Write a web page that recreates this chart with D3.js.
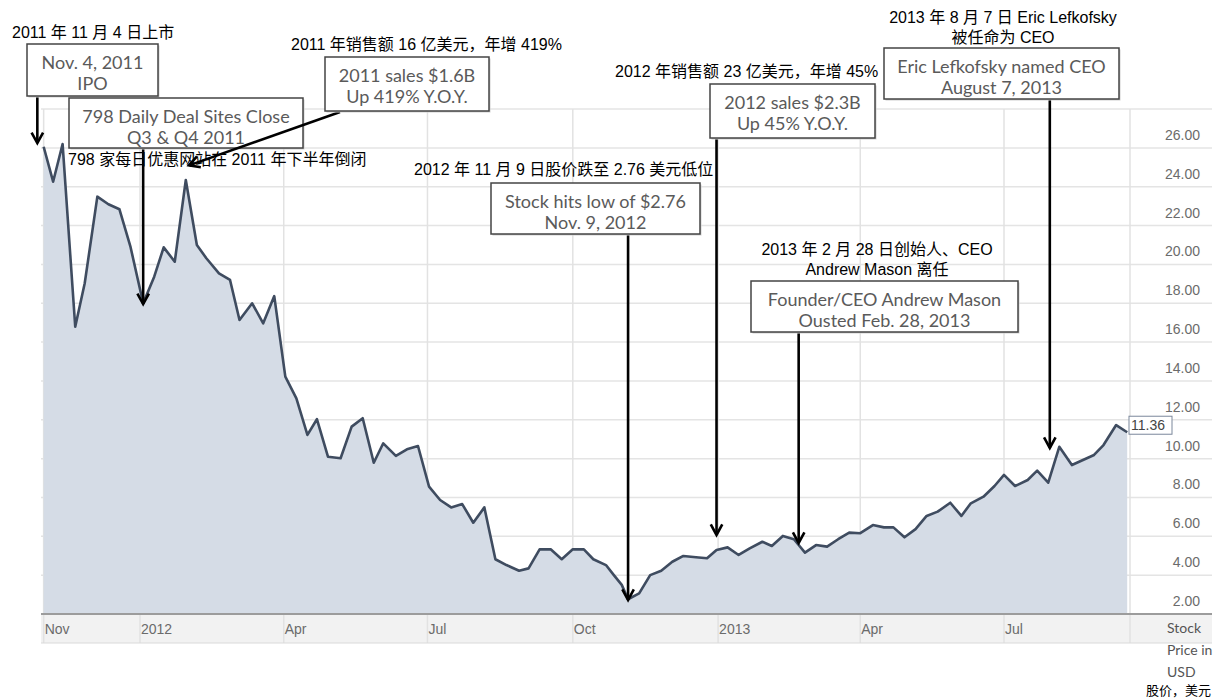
<!DOCTYPE html>
<html>
<head>
<meta charset="utf-8">
<script src="https://cdn.jsdelivr.net/npm/d3@7"></script>
<style>
  body { margin: 0; background: #fff; }
  svg { display: block; }
  .zh { font-family: "Liberation Sans", "Noto Sans CJK SC", sans-serif; font-size: 16px; fill: #000; }
  .box text { font-family: Lato, "Open Sans", sans-serif; font-size: 18px; fill: #5a5a5a; }
  .tick { font-family: "Liberation Sans", Arial, sans-serif; font-size: 14px; fill: #6b6b6b; }
</style>
</head>
<body>
<script>
// weekly closing prices
const dates = [
  "2011-11-01", "2011-11-07", "2011-11-13", "2011-11-21", "2011-11-27", "2011-12-05",
  "2011-12-12", "2011-12-19", "2011-12-26", "2012-01-03", "2012-01-10", "2012-01-16",
  "2012-01-23", "2012-01-30", "2012-02-06", "2012-02-12", "2012-02-20", "2012-02-27",
  "2012-03-04", "2012-03-12", "2012-03-19", "2012-03-26", "2012-04-02", "2012-04-09",
  "2012-04-16", "2012-04-22", "2012-04-29", "2012-05-07", "2012-05-14", "2012-05-21",
  "2012-05-28", "2012-06-03", "2012-06-11", "2012-06-18", "2012-06-25", "2012-07-02",
  "2012-07-09", "2012-07-16", "2012-07-23", "2012-07-30", "2012-08-06", "2012-08-13",
  "2012-08-20", "2012-08-28", "2012-09-03", "2012-09-10", "2012-09-17", "2012-09-24",
  "2012-10-01", "2012-10-08", "2012-10-14", "2012-10-22", "2012-10-27", "2012-11-01",
  "2012-11-05", "2012-11-12", "2012-11-19", "2012-11-26", "2012-12-03", "2012-12-10",
  "2012-12-18", "2012-12-25", "2012-12-31", "2013-01-07", "2013-01-14", "2013-01-21",
  "2013-01-29", "2013-02-04", "2013-02-11", "2013-02-18", "2013-02-25", "2013-03-04",
  "2013-03-11", "2013-03-18", "2013-03-25", "2013-04-01", "2013-04-09", "2013-04-16",
  "2013-04-22", "2013-04-29", "2013-05-06", "2013-05-13", "2013-05-20", "2013-05-28",
  "2013-06-04", "2013-06-10", "2013-06-18", "2013-06-25", "2013-07-01", "2013-07-08",
  "2013-07-16", "2013-07-22", "2013-07-29", "2013-08-05", "2013-08-13", "2013-08-20",
  "2013-08-27", "2013-09-02", "2013-09-10", "2013-09-17"
];
const prices = [
  26.06, 24.26, 26.2, 16.79, 19.03, 23.49,
  23.1, 22.84, 20.9, 18.0, 19.37, 20.88,
  20.14, 24.35, 21.0, 20.32, 19.54, 19.2,
  17.14, 18.0, 16.97, 18.37, 14.22, 13.1,
  11.22, 12.03, 10.1, 10.02, 11.65, 12.08,
  9.79, 10.79, 10.14, 10.48, 10.65, 8.56,
  7.87, 7.49, 7.66, 6.7, 7.49, 4.82,
  4.52, 4.23, 4.35, 5.33, 5.33, 4.82,
  5.33, 5.33, 4.82, 4.52, 4.0, 3.5,
  2.76, 3.06, 4.0, 4.23, 4.69, 4.99,
  4.92, 4.87, 5.3, 5.43, 5.04, 5.38,
  5.72, 5.5, 6.02, 5.85, 5.16, 5.55,
  5.47, 5.85, 6.19, 6.16, 6.58, 6.46,
  6.46, 5.95, 6.37, 7.05, 7.27, 7.73,
  7.05, 7.7, 8.04, 8.59, 9.16, 8.59,
  8.9, 9.38, 8.76, 10.61, 9.67, 9.93,
  10.19, 10.7, 11.73, 11.36
];

const yTicks = [2, 4, 6, 8, 10, 12, 14, 16, 18, 20, 22, 24, 26];
const yGrid = [4, 6, 8, 10, 12, 14, 16, 18, 20, 22, 24, 26, 28];
const xTickDates = ["2011-11-01", "2012-01-01", "2012-04-01", "2012-07-01", "2012-10-01", "2013-01-01", "2013-04-01", "2013-07-01"];
const xTickLabels = ["Nov", "2012", "Apr", "Jul", "Oct", "2013", "Apr", "Jul"];
const lastLabel = "11.36";
const unitLines = ["Stock", "Price in", "USD"];
const unitZh = "股价，美元";

// callouts: box in pixels, arrow tip at a date/price
const notes = [
  { box: [27, 44, 131, 52], lines: ["Nov. 4, 2011", "IPO"], tip: ["2011-10-28", 26.25], from: [null, 97],
    zh: { x: 12, y: 38, anchor: "start", lines: ["2011 年 11 月 4 日上市"] } },
  { box: [69, 98, 234, 50], lines: ["798 Daily Deal Sites Close", "Q3 & Q4 2011"], tip: ["2012-01-03", 17.96], from: [null, 148],
    zh: { x: 68, y: 165, anchor: "start", lines: ["798 家每日优惠网站在 2011 年下半年倒闭"] } },
  { box: [325, 57, 164, 54], lines: ["2011 sales $1.6B", "Up 419% Y.O.Y."], tip: ["2012-02-01", 25.1], from: [340, 112],
    zh: { x: 291, y: 50, anchor: "start", lines: ["2011 年销售额 16 亿美元，年增 419%"] } },
  { box: [491, 183, 209, 51], lines: ["Stock hits low of $2.76", "Nov. 9, 2012"], tip: ["2012-11-05", 2.72], from: [null, 234],
    zh: { x: 414, y: 175, anchor: "start", lines: ["2012 年 11 月 9 日股价跌至 2.76 美元低位"] } },
  { box: [710, 84, 165, 54], lines: ["2012 sales $2.3B", "Up 45% Y.O.Y."], tip: ["2012-12-31", 6.07], from: [null, 138],
    zh: { x: 615, y: 77, anchor: "start", lines: ["2012 年销售额 23 亿美元，年增 45%"] } },
  { box: [751, 281, 267, 51], lines: ["Founder/CEO Andrew Mason", "Ousted Feb. 28, 2013"], tip: ["2013-02-21", 5.66], from: [null, 332],
    zh: { x: 877, y: 255, anchor: "middle", lines: ["2013 年 2 月 28 日创始人、CEO", "Andrew Mason 离任"] } },
  { box: [884, 48, 235, 51], lines: ["Eric Lefkofsky named CEO", "August 7, 2013"], tip: ["2013-07-30", 10.55], from: [null, 99],
    zh: { x: 1003, y: 23, anchor: "middle", lines: ["2013 年 8 月 7 日 Eric Lefkofsky", "被任命为 CEO"] } }
];

const W = 1218, H = 700;
const left = 41, right = 1130, bottom = 614, bandBottom = 643, gridEnd = 1212;
const parse = d3.timeParse("%Y-%m-%d");

const data = dates.map((d, i) => ({ date: parse(d), price: prices[i] }));

// place Jan 2012 and Jul 2013 where the picture has them, then stretch to the plot edges
const anchor = d3.scaleTime()
  .domain([parse("2012-01-01"), parse("2013-07-01")])
  .range([140, 1004]);
const x = d3.scaleTime()
  .domain([anchor.invert(left), anchor.invert(right)])
  .range([left, right]);
const y = d3.scaleLinear()
  .domain([2, 28])
  .range([bottom, bottom - 26 * 19.42]);

const svg = d3.select("body").append("svg")
  .attr("width", W)
  .attr("height", H);

// horizontal grid
svg.append("g")
  .selectAll("line")
  .data(yGrid)
  .enter().append("line")
  .attr("x1", left).attr("x2", gridEnd)
  .attr("y1", d => y(d)).attr("y2", d => y(d))
  .attr("stroke", "#e4e4e4")
  .attr("stroke-width", 1.5);

// x axis band
svg.append("rect")
  .attr("x", left).attr("y", bottom)
  .attr("width", gridEnd - left).attr("height", bandBottom - bottom)
  .attr("fill", "#f2f2f2");

// vertical grid
const xTicks = xTickDates.map(parse);
svg.append("g")
  .selectAll("line")
  .data(xTicks)
  .enter().append("line")
  .attr("x1", d => x(d)).attr("x2", d => x(d))
  .attr("y1", y(28)).attr("y2", bandBottom)
  .attr("stroke", "#e2e2e2")
  .attr("stroke-width", 1.5);

svg.append("line")
  .attr("x1", right).attr("x2", right)
  .attr("y1", y(28)).attr("y2", bandBottom)
  .attr("stroke", "#e2e2e2")
  .attr("stroke-width", 1.5);

// price area + line
const area = d3.area()
  .x(d => x(d.date))
  .y0(y(2))
  .y1(d => y(d.price));

const line = d3.line()
  .x(d => x(d.date))
  .y(d => y(d.price));

svg.append("path")
  .datum(data)
  .attr("d", area)
  .attr("fill", "#d5dce6");

svg.append("path")
  .datum(data)
  .attr("d", line)
  .attr("fill", "none")
  .attr("stroke", "#3f4c60")
  .attr("stroke-width", 2.6)
  .attr("stroke-linejoin", "round");

// axis band borders
svg.append("line")
  .attr("x1", left).attr("x2", gridEnd)
  .attr("y1", bottom).attr("y2", bottom)
  .attr("stroke", "#9c9c9c")
  .attr("stroke-width", 2);

svg.append("line")
  .attr("x1", left).attr("x2", gridEnd)
  .attr("y1", bandBottom).attr("y2", bandBottom)
  .attr("stroke", "#dadada")
  .attr("stroke-width", 1);

// x tick labels
svg.append("g")
  .selectAll("text")
  .data(xTicks)
  .enter().append("text")
  .attr("class", "tick")
  .attr("x", d => Math.max(left, x(d)) + 1)
  .attr("y", 634)
  .text((d, i) => xTickLabels[i]);

// y tick labels, sitting above their grid line
svg.append("g")
  .selectAll("text")
  .data(yTicks)
  .enter().append("text")
  .attr("class", "tick")
  .attr("x", 1200)
  .attr("y", d => y(d) - 8)
  .attr("text-anchor", "end")
  .text(d => d3.format(".2f")(d));

// last price tag
const last = data[data.length - 1];
svg.append("rect")
  .attr("x", right - 1).attr("y", y(last.price) - 16)
  .attr("width", 43).attr("height", 18)
  .attr("fill", "#fff")
  .attr("stroke", "#7b879b")
  .attr("stroke-width", 1);
svg.append("text")
  .attr("class", "tick")
  .attr("x", right + 1)
  .attr("y", y(last.price) - 2)
  .style("fill", "#444")
  .text(lastLabel);

// unit label under the y axis
svg.append("g")
  .selectAll("text")
  .data(unitLines)
  .enter().append("text")
  .attr("x", 1167)
  .attr("y", (d, i) => 633 + i * 22)
  .style("font-family", "Lato, sans-serif")
  .style("font-size", "14px")
  .style("fill", "#555")
  .text(d => d);

svg.append("text")
  .attr("class", "zh")
  .attr("x", 1211)
  .attr("y", 695)
  .attr("text-anchor", "end")
  .style("font-size", "13px")
  .text(unitZh);

// callouts
function arrow(g, x1, y1, x2, y2) {
  const a = Math.atan2(y2 - y1, x2 - x1);
  const len = 12, spread = 0.5;
  g.append("line")
    .attr("x1", x1).attr("y1", y1)
    .attr("x2", x2).attr("y2", y2)
    .attr("stroke", "#000")
    .attr("stroke-width", 2.6);
  g.append("path")
    .attr("d", `M${x2 - len * Math.cos(a - spread)},${y2 - len * Math.sin(a - spread)}` +
               `L${x2},${y2}` +
               `L${x2 - len * Math.cos(a + spread)},${y2 - len * Math.sin(a + spread)}`)
    .attr("fill", "none")
    .attr("stroke", "#000")
    .attr("stroke-width", 2.6)
    .attr("stroke-linejoin", "miter");
}

notes.forEach(n => {
  const g = svg.append("g").attr("class", "box");
  const tx = x(parse(n.tip[0])), ty = y(n.tip[1]);
  const fx = n.from[0] == null ? tx : n.from[0];
  arrow(g, fx, n.from[1], tx, ty);

  const [bx, by, bw, bh] = n.box;
  g.append("rect")
    .attr("x", bx + 1.5).attr("y", by + 1.5)
    .attr("width", bw).attr("height", bh)
    .attr("fill", "#cfcfcf");
  g.append("rect")
    .attr("x", bx).attr("y", by)
    .attr("width", bw).attr("height", bh)
    .attr("fill", "#fff")
    .attr("stroke", "#444")
    .attr("stroke-width", 1.5);
  n.lines.forEach((t, i) => {
    g.append("text")
      .attr("x", bx + bw / 2)
      .attr("y", by + 25 + i * 20.5)
      .attr("text-anchor", "middle")
      .text(t);
  });

  n.zh.lines.forEach((t, i) => {
    svg.append("text")
      .attr("class", "zh")
      .attr("x", n.zh.x)
      .attr("y", n.zh.y + i * 20)
      .attr("text-anchor", n.zh.anchor)
      .text(t);
  });
});
</script>
</body>
</html>
